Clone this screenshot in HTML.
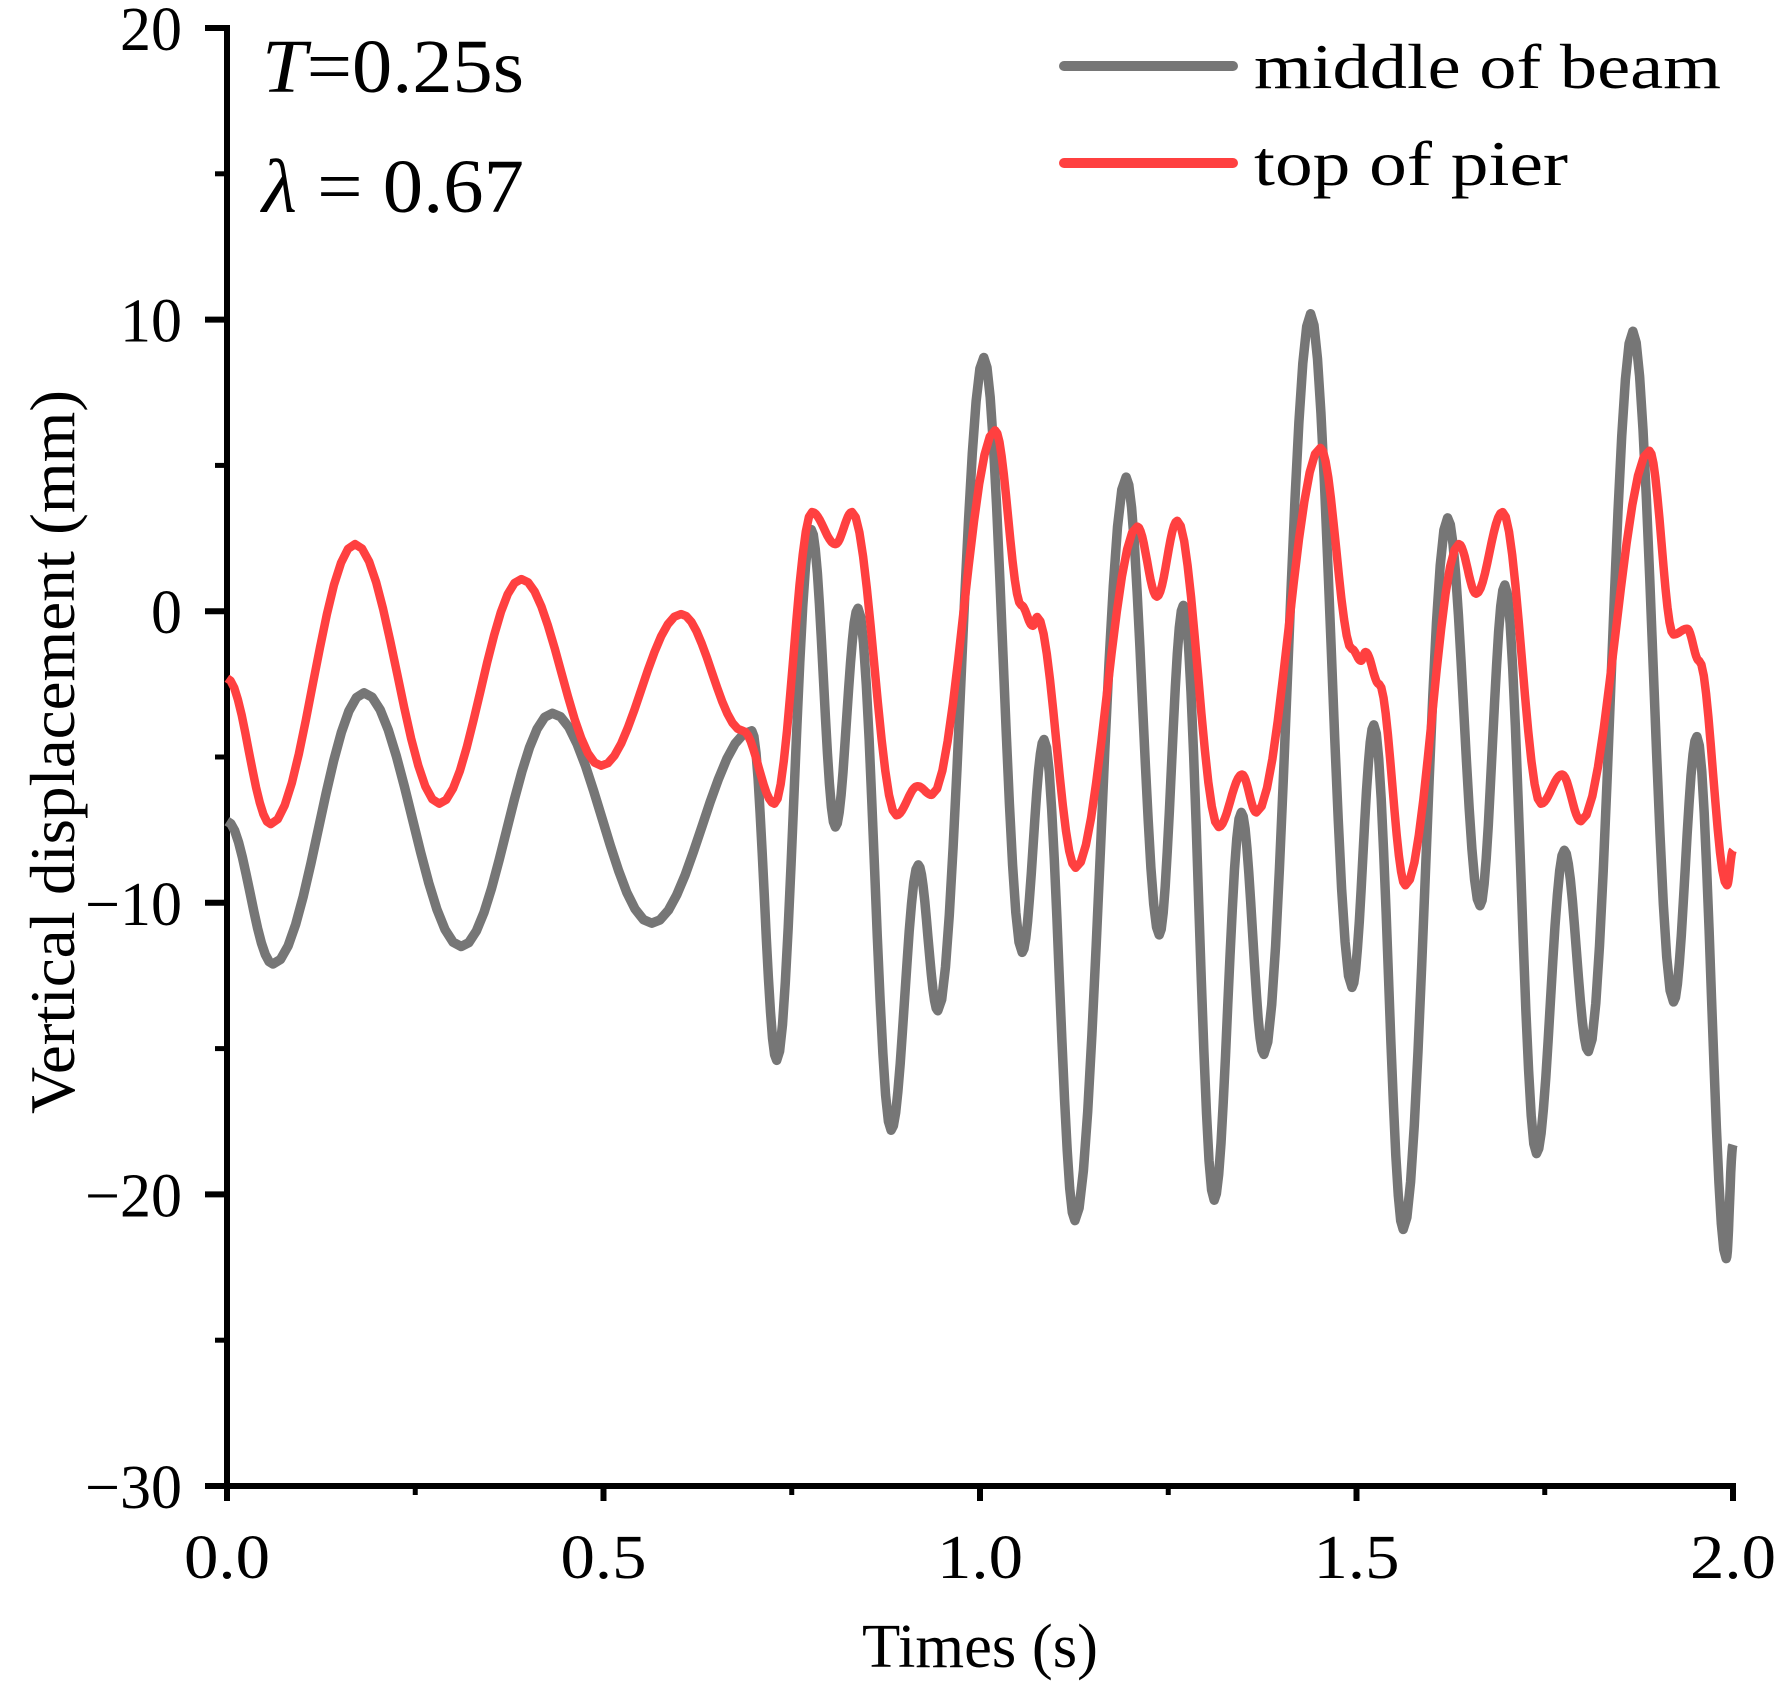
<!DOCTYPE html>
<html><head><meta charset="utf-8"><style>
html,body{margin:0;padding:0;background:#fff;}
svg{display:block;}
text{font-family:"Liberation Serif","Noto Serif CJK SC",serif;fill:#000;}
</style></head><body>
<svg id="chart" width="1787" height="1687" viewBox="0 0 1787 1687" xmlns="http://www.w3.org/2000/svg">
<g id="axes"></g>
<g id="series"></g>
<g id="labels">
  <text x="262" y="92" font-size="76" textLength="262" lengthAdjust="spacingAndGlyphs"><tspan font-style="italic">T</tspan>=0.25s</text>
  <text x="262" y="212" font-size="76" textLength="262" lengthAdjust="spacingAndGlyphs"><tspan font-style="italic">λ</tspan> = 0.67</text>
  <text x="980" y="1667" font-size="62" text-anchor="middle" textLength="236" lengthAdjust="spacingAndGlyphs">Times (s)</text>
  <text transform="translate(74,752) rotate(-90)" font-size="64" text-anchor="middle" textLength="724" lengthAdjust="spacingAndGlyphs">Vertical displacement (mm)</text>
  <line x1="1064" y1="66" x2="1233" y2="66" stroke="#767676" stroke-width="10" stroke-linecap="round"/>
  <text x="1254" y="88" font-size="64" textLength="467" lengthAdjust="spacingAndGlyphs">middle of beam</text>
  <line x1="1064" y1="163" x2="1233" y2="163" stroke="#ff4040" stroke-width="10" stroke-linecap="round"/>
  <text x="1254" y="185" font-size="64" textLength="314" lengthAdjust="spacingAndGlyphs">top of pier</text>
</g>
</svg>
<script>
const xTicks = [0, 0.5, 1.0, 1.5, 2.0];
const xTickLabels = ["0.0", "0.5", "1.0", "1.5", "2.0"];
const xMinor = [0.25, 0.75, 1.25, 1.75];
const yTicks = [20, 10, 0, -10, -20, -30];
const yTickLabels = ["20", "10", "0", "\u221210", "\u221220", "\u221230"];
const yMinor = [15, 5, -5, -15, -25];

const beamT = [0,.061,.182,.311,.432,.564,.697,.730,.776,.808,.838,.882,.918,.944,1.005,1.056,1.085,1.126,1.194,1.238,1.270,1.311,1.347,1.377,1.439,1.494,1.523,1.562,1.621,1.664,1.697,1.739,1.776,1.808,1.867,1.921,1.952,1.991,2.0];
const beamV = [-7.2,-12.1,-2.8,-11.5,-3.5,-10.7,-4.1,-15.4,2.8,-7.4,0.1,-17.8,-8.7,-13.7,8.7,-11.7,-4.4,-20.9,4.6,-11.1,0.2,-20.2,-6.9,-15.2,10.2,-12.9,-3.9,-21.2,3.2,-10.1,0.9,-18.6,-8.2,-15.1,9.6,-13.4,-4.3,-22.2,-18.3];
const pierT = [0,.058,.170,.282,.391,.497,.603,.685,.727,.777,.808,.830,.889,.917,.936,1.020,1.055,1.070,1.076,1.127,1.209,1.235,1.262,1.317,1.348,1.367,1.452,1.494,1.506,1.512,1.530,1.565,1.636,1.659,1.694,1.745,1.773,1.798,1.889,1.921,1.939,1.955,1.992,2.0];
const pierV = [-2.3,-7.3,2.3,-6.6,1.1,-5.3,-0.1,-4.1,-6.6,3.4,2.3,3.4,-7.0,-6.0,-6.3,6.2,0.2,-0.5,-0.2,-8.8,2.9,0.5,3.1,-7.4,-5.6,-6.9,5.6,-1.3,-1.7,-1.4,-2.5,-9.4,2.3,0.6,3.4,-6.6,-5.6,-7.2,5.5,-0.8,-0.6,-1.7,-9.4,-8.2];

const X0=227, X1=1733, Y0=1486, Y1=28;
function xs(t){return X0+(t-0)/(2-0)*(X1-X0);}
function ys(v){return Y0-(v+30)/(50)*(Y0-Y1);}
const NS="http://www.w3.org/2000/svg";
function mk(tag,attrs,parent){const e=document.createElementNS(NS,tag);for(const k in attrs)e.setAttribute(k,attrs[k]);parent.appendChild(e);return e;}
const axes=document.getElementById('axes');
const series=document.getElementById('series');

function pathFor(T,V){
  let d='M'+xs(T[0]).toFixed(1)+','+ys(V[0]).toFixed(1);
  for(let i=0;i<T.length-1;i++){
    const n=12;
    for(let k=1;k<=n;k++){
      const f=k/n, c=(1-Math.cos(Math.PI*f))/2;
      const t=T[i]+(T[i+1]-T[i])*f, v=V[i]+(V[i+1]-V[i])*c;
      d+=' L'+xs(t).toFixed(1)+','+ys(v).toFixed(1);
    }
  }
  return d;
}
const pb=mk('path',{d:pathFor(beamT,beamV),fill:'none',stroke:'#767676','stroke-width':9.5,'stroke-linejoin':'round'},series);


const pp=mk('path',{d:pathFor(pierT,pierV),fill:'none',stroke:'#ff4040','stroke-width':8.5,'stroke-linejoin':'round'},series);



const ya=mk('line',{x1:X0,y1:Y1-3,x2:X0,y2:Y0+3,stroke:'#000','stroke-width':6},axes);


const xa=mk('line',{x1:X0-3,y1:Y0,x2:X1+3,y2:Y0,stroke:'#000','stroke-width':6},axes);



xTicks.forEach((t,i)=>{
  const l=mk('line',{x1:xs(t),y1:Y0,x2:xs(t),y2:Y0+15,stroke:'#000','stroke-width':6},axes);
  
  
  const tx=mk('text',{x:xs(t),y:1578,'font-size':62,'text-anchor':'middle',textLength:86,lengthAdjust:'spacingAndGlyphs'},axes);
  tx.textContent=xTickLabels[i];
  
  
});
xMinor.forEach(t=>{
  const l=mk('line',{x1:xs(t),y1:Y0,x2:xs(t),y2:Y0+9,stroke:'#000','stroke-width':5},axes);
  
  
});
yTicks.forEach((v,i)=>{
  const l=mk('line',{x1:X0-22,y1:ys(v),x2:X0,y2:ys(v),stroke:'#000','stroke-width':6},axes);
  
  
  const tx=mk('text',{x:182,y:ys(v)+22,'font-size':62,'text-anchor':'end'},axes);
  tx.textContent=yTickLabels[i];
  
  
});
yMinor.forEach(v=>{
  const l=mk('line',{x1:X0-12,y1:ys(v),x2:X0,y2:ys(v),stroke:'#000','stroke-width':5},axes);
  
  
});
</script>
</body></html>
